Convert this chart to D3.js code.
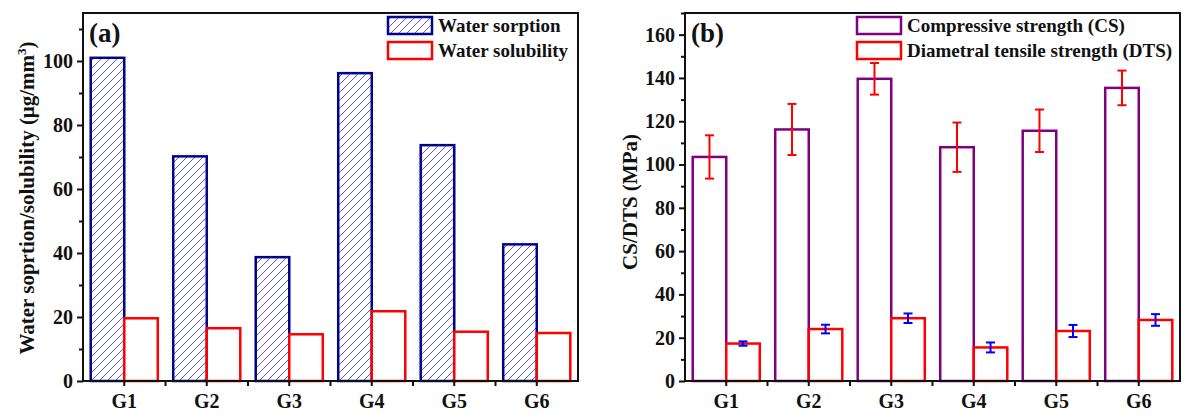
<!DOCTYPE html>
<html>
<head>
<meta charset="utf-8">
<script src="https://cdn.jsdelivr.net/npm/d3@7"></script>
<style>
  body { margin: 0; background: #fff; }
  svg text { font-family: "Liberation Serif", "Times New Roman", serif; font-weight: bold; fill: #111; }
</style>
</head>
<body>
<svg id="chart" width="1186" height="414"></svg>
<script>
// data
const groups = ["G1", "G2", "G3", "G4", "G5", "G6"];
const sorption = [101.0, 70.2, 38.7, 96.2, 73.7, 42.7];
const solubility = [19.6, 16.5, 14.6, 21.8, 15.4, 15.0];
const cs = [103.5, 116.2, 139.6, 108.0, 115.6, 135.4];
const csErr = [10.0, 11.8, 7.3, 11.4, 9.8, 8.0];
const dts = [17.3, 24.0, 29.0, 15.5, 23.1, 28.2];
const dtsErr = [1.0, 2.0, 2.2, 2.3, 2.8, 2.7];
const yTicksA = [0, 20, 40, 60, 80, 100];
const yTicksB = [0, 20, 40, 60, 80, 100, 120, 140, 160];

const plotTop = 13, plotBottom = 381;
const svg = d3.select("#chart");

svg.append("defs").append("pattern")
    .attr("id", "hatch")
    .attr("patternUnits", "userSpaceOnUse")
    .attr("width", 8)
    .attr("height", 8)
  .append("path")
    .attr("d", "M-2,2 l4,-4 M0,8 l8,-8 M6,10 l4,-4")
    .attr("stroke", "#4a4af0")
    .attr("stroke-width", 0.9);

function panel(opt) {
  const x0 = d3.scaleBand().domain(groups).range([opt.left, opt.right]).padding(0);
  const x1 = d3.scaleBand().domain([0, 1]).range([0, x0.bandwidth()]).paddingInner(0).paddingOuter(0.23);
  const y = d3.scaleLinear().domain(opt.yDomain).range([plotBottom, plotTop]);
  const g = svg.append("g");

  // bars
  opt.series.forEach((s, i) => {
    g.append("g").selectAll("rect")
      .data(s.values)
      .join("rect")
        .attr("x", (d, j) => x0(groups[j]) + x1(i))
        .attr("y", d => y(d))
        .attr("width", x1.bandwidth())
        .attr("height", d => y(0) - y(d))
        .attr("fill", s.fill)
        .attr("stroke", s.stroke)
        .attr("stroke-width", 2.5);
  });

  // error bars
  opt.series.forEach((s, i) => {
    if (!s.err) return;
    const eb = g.append("g").attr("stroke", s.errColor).attr("stroke-width", 2);
    const cx = (d, j) => x0(groups[j]) + x1(i) + x1.bandwidth() / 2;
    eb.append("g").selectAll("line").data(s.values).join("line")
      .attr("x1", cx).attr("x2", cx)
      .attr("y1", (d, j) => y(d + s.err[j]))
      .attr("y2", (d, j) => y(d - s.err[j]));
    [1, -1].forEach(sg => {
      eb.append("g").selectAll("line").data(s.values).join("line")
        .attr("x1", (d, j) => cx(d, j) - 4.5)
        .attr("x2", (d, j) => cx(d, j) + 4.5)
        .attr("y1", (d, j) => y(d + sg * s.err[j]))
        .attr("y2", (d, j) => y(d + sg * s.err[j]));
    });
  });

  // frame
  g.append("rect")
    .attr("x", opt.left).attr("y", plotTop)
    .attr("width", opt.right - opt.left).attr("height", plotBottom - plotTop)
    .attr("fill", "none").attr("stroke", "#111").attr("stroke-width", 2);

  // y axis
  const ya = g.append("g")
    .attr("transform", `translate(${opt.left},0)`)
    .call(d3.axisLeft(y).tickValues(opt.yTicks).tickSize(6).tickPadding(4));
  const ym = g.append("g")
    .attr("transform", `translate(${opt.left},0)`)
    .call(d3.axisLeft(y).tickValues(opt.yMinor).tickSize(4).tickFormat(""));

  // x axis
  const xa = g.append("g")
    .attr("transform", `translate(0,${plotBottom})`)
    .call(d3.axisBottom(x0).tickSize(5).tickPadding(8));
  g.append("g").selectAll("line")
    .data(groups.slice(1))
    .join("line")
      .attr("x1", d => x0(d)).attr("x2", d => x0(d))
      .attr("y1", plotBottom).attr("y2", plotBottom + 5)
      .attr("stroke", "#111").attr("stroke-width", 2);

  [ya, ym, xa].forEach(a => {
    a.select(".domain").remove();
    a.selectAll(".tick line").attr("stroke", "#111").attr("stroke-width", 2);
    a.selectAll("text").style("font-size", "20px").attr("fill", "#111");
  });

  // y title
  const t = g.append("text")
    .attr("transform", `translate(${opt.titleX},${opt.titleY}) rotate(-90)`)
    .attr("text-anchor", "middle")
    .style("font-size", "21px");
  opt.yTitle(t);

  // panel label
  g.append("text")
    .attr("x", opt.left + 6).attr("y", 42)
    .style("font-size", "27px")
    .text(opt.label);

  // legend
  const lg = g.append("g");
  opt.series.forEach((s, i) => {
    lg.append("rect")
      .attr("x", opt.legX).attr("y", 17 + i * 25)
      .attr("width", 44).attr("height", 17)
      .attr("fill", s.fill).attr("stroke", s.stroke).attr("stroke-width", 2.5);
    lg.append("text")
      .attr("x", opt.legX + 50).attr("y", 32 + i * 25)
      .style("font-size", "19px")
      .text(s.name);
  });
}

panel({
  left: 83, right: 578, yDomain: [0, 115],
  yTicks: yTicksA, yMinor: [10, 30, 50, 70, 90, 110],
  titleX: 34, titleY: 198, label: "(a)", legX: 388,
  yTitle: t => {
    t.append("tspan").text("Water soprtion/solubility (μg/mm");
    t.append("tspan").attr("dy", -8).style("font-size", "13px").text("3");
    t.append("tspan").attr("dy", 8).text(")");
  },
  series: [
    { name: "Water sorption", values: sorption, fill: "url(#hatch)", stroke: "#00008b" },
    { name: "Water solubility", values: solubility, fill: "#fff", stroke: "#ff0000" }
  ]
});

panel({
  left: 685, right: 1180, yDomain: [0, 170],
  yTicks: yTicksB, yMinor: [10, 30, 50, 70, 90, 110, 130, 150, 170],
  titleX: 637, titleY: 202, label: "(b)", legX: 857,
  yTitle: t => t.text("CS/DTS (MPa)"),
  series: [
    { name: "Compressive strength (CS)", values: cs, err: csErr, errColor: "#ff0000", fill: "#fff", stroke: "#800080" },
    { name: "Diametral tensile strength (DTS)", values: dts, err: dtsErr, errColor: "#0000ff", fill: "#fff", stroke: "#ff0000" }
  ]
});
</script>
</body>
</html>
